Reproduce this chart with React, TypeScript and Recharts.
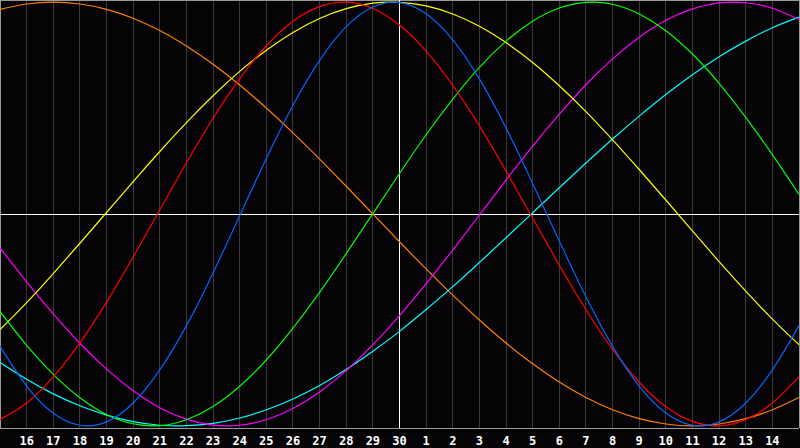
import React from 'react';
import { LineChart, Line, XAxis, YAxis, CartesianGrid, ReferenceLine } from 'recharts';

const days = [0,1,2,3,4,5,6,7,8,9,10,11,12,13,14,15,16,17,18,19,20,21,22,23,24,25,26,27,28,29,30];
const dayLabels = ['15','16','17','18','19','20','21','22','23','24','25','26','27','28','29','30','1','2','3','4','5','6','7','8','9','10','11','12','13','14','15'];
const tickDays = [1,2,3,4,5,6,7,8,9,10,11,12,13,14,15,16,17,18,19,20,21,22,23,24,25,26,27,28,29];

const blueSeries = [-0.625,-0.812,-0.940,-0.997,-0.981,-0.892,-0.736,-0.527,-0.278,-0.008,0.262,0.513,0.725,0.884,0.977,0.998,0.945,0.822,0.638,0.406,0.144,-0.128,-0.391,-0.625,-0.812,-0.939,-0.997,-0.981,-0.892,-0.736,-0.527];
const redSeries = [-0.970,-0.892,-0.769,-0.608,-0.416,-0.203,0.020,0.242,0.452,0.639,0.794,0.910,0.979,1.000,0.970,0.892,0.769,0.607,0.416,0.203,-0.020,-0.242,-0.452,-0.639,-0.794,-0.910,-0.979,-1.000,-0.970,-0.892,-0.769];
const greenSeries = [-0.460,-0.620,-0.757,-0.867,-0.946,-0.990,-0.999,-0.971,-0.909,-0.813,-0.689,-0.539,-0.370,-0.187,0.002,0.191,0.374,0.542,0.692,0.816,0.910,0.972,0.999,0.990,0.944,0.865,0.755,0.617,0.456,0.280,0.093];
const yellowSeries = [-0.546,-0.418,-0.281,-0.138,0.007,0.153,0.295,0.431,0.558,0.673,0.773,0.857,0.923,0.969,0.995,0.999,0.982,0.944,0.886,0.809,0.715,0.605,0.483,0.350,0.210,0.066,-0.080,-0.225,-0.364,-0.496,-0.617];
const magentaSeries = [-0.160,-0.320,-0.471,-0.610,-0.732,-0.834,-0.914,-0.968,-0.996,-0.997,-0.971,-0.918,-0.840,-0.739,-0.618,-0.480,-0.329,-0.170,-0.005,0.160,0.320,0.471,0.610,0.732,0.834,0.914,0.968,0.996,0.997,0.971,0.918];
const orangeSeries = [0.966,0.991,1.000,0.991,0.966,0.924,0.866,0.793,0.707,0.609,0.500,0.383,0.259,0.131,0.000,-0.131,-0.259,-0.383,-0.500,-0.609,-0.707,-0.793,-0.866,-0.924,-0.966,-0.991,-1.000,-0.991,-0.966,-0.924,-0.866];
const cyanSeries = [-0.701,-0.780,-0.849,-0.905,-0.949,-0.980,-0.997,-0.999,-0.988,-0.963,-0.924,-0.873,-0.809,-0.734,-0.648,-0.554,-0.451,-0.343,-0.229,-0.112,0.006,0.124,0.241,0.354,0.462,0.564,0.657,0.742,0.816,0.879,0.929];

const data = days.map((t, i) => ({
  t,
  orange: orangeSeries[i],
  cyan: cyanSeries[i],
  magenta: magentaSeries[i],
  yellow: yellowSeries[i],
  green: greenSeries[i],
  red: redSeries[i],
  blue: blueSeries[i],
}));

const seriesStyles: { key: string; color: string }[] = [
  { key: 'orange', color: '#ff8000' },
  { key: 'cyan', color: '#00ffff' },
  { key: 'magenta', color: '#ff00ff' },
  { key: 'yellow', color: '#ffff00' },
  { key: 'green', color: '#00ff00' },
  { key: 'red', color: '#ff0000' },
  { key: 'blue', color: '#0066ff' },
];

export default function App() {
  return (
    <div style={{ position: 'absolute', left: 0, top: 0, width: 800, height: 448, background: '#050306' }}>
      <LineChart width={800} height={448} data={data} margin={{ top: 0, right: 1, left: 0, bottom: 0 }}>
        <CartesianGrid horizontal={false} vertical={true} stroke="#3a3a3a" strokeWidth={1} shapeRendering="crispEdges" />
        <XAxis
          dataKey="t"
          type="number"
          domain={[0, 30]}
          ticks={tickDays}
          interval={0}
          tickFormatter={(v: number) => dayLabels[v]}
          tickLine={false}
          axisLine={{ stroke: '#999999', shapeRendering: 'crispEdges' }}
          height={20}
          tick={{ fill: '#ffffff', fontSize: 12, fontWeight: 'bold', fontFamily: 'DejaVu Sans Mono' }}
        />
        <YAxis hide domain={[-1.01, 1.01]} />
        <ReferenceLine x={0} stroke="#999999" shapeRendering="crispEdges" />
        <ReferenceLine x={30} stroke="#999999" shapeRendering="crispEdges" />
        <ReferenceLine y={1.01} stroke="#999999" shapeRendering="crispEdges" />
        <ReferenceLine x={15} stroke="#ffffff" shapeRendering="crispEdges" />
        <ReferenceLine y={0} stroke="#ffffff" shapeRendering="crispEdges" />
        {seriesStyles.map((s) => (
          <Line
            key={s.key}
            dataKey={s.key}
            type="natural"
            stroke={s.color}
            strokeWidth={1.2}
            dot={false}
            activeDot={false}
            isAnimationActive={false}
          />
        ))}
      </LineChart>
    </div>
  );
}
